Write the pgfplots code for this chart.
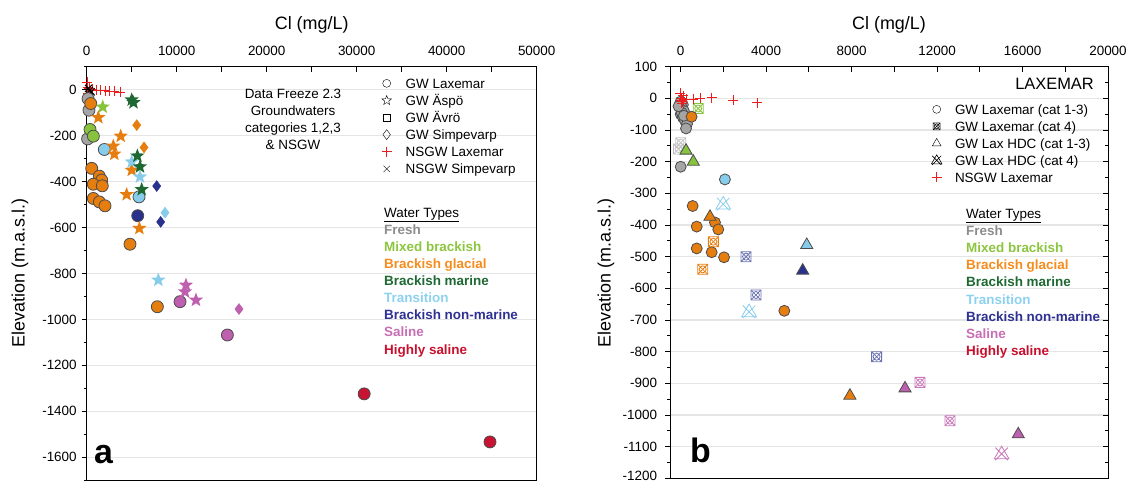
\documentclass[border=0pt]{standalone}
\usepackage{pgfplots}
\pgfplotsset{compat=1.18}
\usepackage{fontspec}
\setmainfont{Liberation Sans}

\definecolor{cfresh}{RGB}{165,165,165}
\definecolor{cmix}{RGB}{135,195,60}
\definecolor{cglac}{RGB}{230,125,15}
\definecolor{cmar}{RGB}{30,105,50}
\definecolor{ctrans}{RGB}{135,205,235}
\definecolor{cbnm}{RGB}{40,50,140}
\definecolor{csal}{RGB}{190,95,175}
\definecolor{chs}{RGB}{200,20,50}
\definecolor{tfresh}{RGB}{140,140,140}
\definecolor{tmix}{RGB}{140,198,63}
\definecolor{tglac}{RGB}{245,140,30}
\definecolor{tmar}{RGB}{30,105,50}
\definecolor{ttrans}{RGB}{140,210,240}
\definecolor{tbnm}{RGB}{46,49,146}
\definecolor{tsal}{RGB}{200,110,180}
\definecolor{ths}{RGB}{200,16,46}
\definecolor{nsgw}{RGB}{235,30,30}

\pgfdeclareplotmark{fstar}{%
 \pgfpathmoveto{\pgfpointpolar{90}{\pgfplotmarksize}}%
 \pgfpathlineto{\pgfpointpolar{126}{0.42\pgfplotmarksize}}%
 \pgfpathlineto{\pgfpointpolar{162}{\pgfplotmarksize}}%
 \pgfpathlineto{\pgfpointpolar{198}{0.42\pgfplotmarksize}}%
 \pgfpathlineto{\pgfpointpolar{234}{\pgfplotmarksize}}%
 \pgfpathlineto{\pgfpointpolar{270}{0.42\pgfplotmarksize}}%
 \pgfpathlineto{\pgfpointpolar{306}{\pgfplotmarksize}}%
 \pgfpathlineto{\pgfpointpolar{342}{0.42\pgfplotmarksize}}%
 \pgfpathlineto{\pgfpointpolar{18}{\pgfplotmarksize}}%
 \pgfpathlineto{\pgfpointpolar{54}{0.42\pgfplotmarksize}}%
 \pgfpathclose\pgfusepathqfill}
\pgfdeclareplotmark{ostar}{%
 \pgfpathmoveto{\pgfpointpolar{90}{\pgfplotmarksize}}%
 \pgfpathlineto{\pgfpointpolar{126}{0.42\pgfplotmarksize}}%
 \pgfpathlineto{\pgfpointpolar{162}{\pgfplotmarksize}}%
 \pgfpathlineto{\pgfpointpolar{198}{0.42\pgfplotmarksize}}%
 \pgfpathlineto{\pgfpointpolar{234}{\pgfplotmarksize}}%
 \pgfpathlineto{\pgfpointpolar{270}{0.42\pgfplotmarksize}}%
 \pgfpathlineto{\pgfpointpolar{306}{\pgfplotmarksize}}%
 \pgfpathlineto{\pgfpointpolar{342}{0.42\pgfplotmarksize}}%
 \pgfpathlineto{\pgfpointpolar{18}{\pgfplotmarksize}}%
 \pgfpathlineto{\pgfpointpolar{54}{0.42\pgfplotmarksize}}%
 \pgfpathclose\pgfusepathqstroke}
\pgfdeclareplotmark{sqox}{%
 \pgfpathrectangle{\pgfpoint{-\pgfplotmarksize}{-\pgfplotmarksize}}{\pgfpoint{2\pgfplotmarksize}{2\pgfplotmarksize}}%
 \pgfpathcircle{\pgfpointorigin}{0.7\pgfplotmarksize}%
 \pgfpathmoveto{\pgfpoint{-\pgfplotmarksize}{-\pgfplotmarksize}}\pgfpathlineto{\pgfpoint{\pgfplotmarksize}{\pgfplotmarksize}}%
 \pgfpathmoveto{\pgfpoint{-\pgfplotmarksize}{\pgfplotmarksize}}\pgfpathlineto{\pgfpoint{\pgfplotmarksize}{-\pgfplotmarksize}}%
 \pgfusepathqstroke}
\pgfdeclareplotmark{trix}{%
 \pgfpathmoveto{\pgfpoint{0pt}{1.1\pgfplotmarksize}}%
 \pgfpathlineto{\pgfpoint{-1.05\pgfplotmarksize}{-0.7\pgfplotmarksize}}%
 \pgfpathlineto{\pgfpoint{1.05\pgfplotmarksize}{-0.7\pgfplotmarksize}}%
 \pgfpathclose
 \pgfpathmoveto{\pgfpoint{-0.9\pgfplotmarksize}{-0.9\pgfplotmarksize}}\pgfpathlineto{\pgfpoint{0.9\pgfplotmarksize}{0.9\pgfplotmarksize}}%
 \pgfpathmoveto{\pgfpoint{-0.9\pgfplotmarksize}{0.9\pgfplotmarksize}}\pgfpathlineto{\pgfpoint{0.9\pgfplotmarksize}{-0.9\pgfplotmarksize}}%
 \pgfusepathqstroke}

\pgfplotsset{
 myax/.style={scale only axis, anchor=north west,
  axis line style={black, line width=1bp},
  tick align=center, major tick length=5bp, minor tick length=3bp,
  tick style={black, line width=0.9bp},
  major y tick style={xshift=-2.5bp}, minor y tick style={xshift=-1.5bp},
  major x tick style={yshift=-2.5bp},
  xtick pos=right, xticklabel pos=right, yticklabel pos=left,
  tick label style={font=\fontsize{13.5}{15}\selectfont},
  xticklabel style={yshift=5bp},
  ymajorgrids, major grid style={draw=black!10, line width=1.4bp},
  scaled x ticks=false, scaled y ticks=false,
  legend style={draw=none, fill=none, inner sep=0pt, outer sep=0pt, anchor=north west,
    font=\fontsize{13.5}{15}\selectfont, column sep=12bp,
    nodes={inner sep=0pt, text height=11.5bp, text depth=2bp}},
  legend cell align=left,
  legend image code/.code={\path[draw=none, fill=none] (-7bp,-3bp) rectangle (7bp,3bp); \draw[##1] plot coordinates {(0bp,0bp)};},
 },
 pcirc/.style={only marks, mark=*, mark size=6bp, mark options={draw=black!70, fill=#1, line width=0.8bp}, forget plot},
 pcircb/.style={only marks, mark=*, mark size=5.5bp, mark options={draw=black!70, fill=#1, line width=0.8bp}, forget plot},
 pstar/.style={only marks, mark=fstar, mark size=7.5bp, color=#1, forget plot},
 pdiam/.style={only marks, mark=diamond*, mark size=5.5bp, color=#1, forget plot},
 ptri/.style={only marks, mark=triangle*, mark size=7bp, mark options={draw=black!70, fill=#1, line width=0.8bp}, forget plot},
 psq/.style={only marks, mark=sqox, mark size=5bp, color=#1, line width=0.8bp, forget plot},
 ptx/.style={only marks, mark=trix, mark size=7bp, color=#1, line width=0.8bp, forget plot},
}

\begin{document}
\begin{tikzpicture}
\useasboundingbox (0,0) rectangle (1128bp,-482bp);

% ---------------- panel a ----------------
\begin{axis}[myax, at={(86.7bp,-66.5bp)}, width=450bp, height=413.8bp,
 xmin=0, xmax=50000, ymin=-1700, ymax=100,
 xtick={0,5000,...,50000}, xticklabels={0,,10000,,20000,,30000,,40000,,50000},
 ytick={-1600,-1400,-1200,-1000,-800,-600,-400,-200,0},
 yticklabels={-1600,-1400,-1200,-1000,-800,-600,-400,-200,0},
 minor ytick={-1700,-1500,-1300,-1100,-900,-700,-500,-300,-100,100},
 ytick pos=left, yticklabel style={xshift=-4bp},
 legend style={at={(axis description cs:0.6511,0.9756)}, row sep=3.6bp},
]
\addlegendimage{only marks, mark=o, black, mark size=4bp}
\addlegendentry{GW Laxemar}
\addlegendimage{only marks, mark=ostar, black, mark size=5bp}
\addlegendentry{GW Äspö}
\addlegendimage{only marks, mark=square, black, mark size=3.5bp}
\addlegendentry{GW Ävrö}
\addlegendimage{only marks, mark=diamond, black, mark size=5bp}
\addlegendentry{GW Simpevarp}
\addlegendimage{only marks, mark=+, mark size=5bp, color=nsgw, draw=nsgw, mark options={draw=nsgw, line width=0.9bp}}
\addlegendentry{NSGW Laxemar}
\addlegendimage{only marks, mark=x, black, mark size=4.5bp}
\addlegendentry{NSGW Simpevarp}

% NSGW
\addplot[only marks, mark=+, nsgw, mark size=5bp, forget plot] coordinates {
 (0,33) (100,10) (300,5) (600,0) (1000,-2) (1500,-4) (2000,-5) (2500,-6) (3000,-8) (3700,-10) (200,-15)};
\addplot[only marks, mark=x, black, mark size=5bp, line width=1bp, forget plot] coordinates {
 (300,-5) (200,5) (500,-10)};
% circles
\addplot[pcirc=cfresh] coordinates {(150,-40) (250,-90) (100,-215)};
\addplot[pcirc=cmix] coordinates {(370,-174) (740,-203)};
\addplot[pcirc=cglac] coordinates {(450,-61) (556,-343) (1400,-377) (1667,-394) (733,-412) (1733,-419)
 (733,-474) (1400,-489) (2033,-506) (4810,-673) (7850,-945)};
\addplot[pcirc=ctrans] coordinates {(1960,-261) (5810,-467)};
\addplot[pcirc=cbnm] coordinates {(5670,-549)};
\addplot[pcirc=csal] coordinates {(10370,-923) (15630,-1068)};
\addplot[pcirc=chs] coordinates {(30830,-1324) (44810,-1533)};
% stars
\addplot[pstar=cmix] coordinates {(1780,-76)};
\addplot[pstar=cglac] coordinates {(1290,-122) (3780,-203) (2960,-246) (3070,-281) (5000,-351) (4440,-457) (5850,-604)};
\addplot[pstar=ctrans] coordinates {(5000,-315) (5920,-380) (7960,-829)};
\addplot[pstar=cmar] coordinates {(5000,-45) (5200,-57) (5630,-289) (5920,-336) (6110,-435)};
\addplot[pstar=csal] coordinates {(11030,-851) (10920,-880) (12140,-916)};
% diamonds
\addplot[pdiam=cglac] coordinates {(5560,-155) (6370,-252)};
\addplot[pdiam=cbnm] coordinates {(7780,-420) (8220,-576)};
\addplot[pdiam=ctrans] coordinates {(8700,-536)};
\addplot[pdiam=csal] coordinates {(16920,-955)};
\end{axis}

% ---------------- panel b ----------------
\begin{axis}[myax, at={(670bp,-66.7bp)}, width=438bp, height=411.6bp,
 xmin=-500, xmax=20000, ymin=-1200, ymax=100,
 xtick={0,2000,...,20000}, xticklabels={0,,4000,,8000,,12000,,16000,,20000},
 ytick={-1200,-1100,-1000,-900,-800,-700,-600,-500,-400,-300,-200,-100,0,100},
 yticklabels={\raisebox{5bp}{-1200},-1100,-1000,-900,-800,-700,-600,-500,-400,-300,-200,-100,0,100},
 minor ytick={-1150,-1050,-950,-850,-750,-650,-550,-450,-350,-250,-150,-50,50},
 ytick pos=both, yticklabel style={xshift=-7bp},
 legend style={at={(axis description cs:0.5929,0.9128)}, row sep=3.5bp, column sep=11.3bp},
]
\addlegendimage{only marks, mark=o, black, mark size=4bp}
\addlegendentry{GW Laxemar (cat 1-3)}
\addlegendimage{only marks, mark=sqox, black, mark size=3.5bp, line width=0.5bp}
\addlegendentry{GW Laxemar (cat 4)}
\addlegendimage{only marks, mark=triangle, black, mark size=5bp}
\addlegendentry{GW Lax HDC (cat 1-3)}
\addlegendimage{only marks, mark=trix, black, mark size=5bp, line width=0.6bp}
\addlegendentry{GW Lax HDC (cat 4)}
\addlegendimage{only marks, mark=+, mark size=5bp, color=nsgw, draw=nsgw, mark options={draw=nsgw, line width=0.9bp}}
\addlegendentry{NSGW Laxemar}

\addplot[pcircb=cfresh] coordinates {(0,-10) (100,-20) (50,-30) (150,-40) (0,-50) (100,-60) (200,-70)
 (300,-80) (250,-95) (50,-45) (150,-55) (-100,-25) (0,-216)};
\addplot[psq=cfresh!70] coordinates {(0,-140) (-100,-160)};
\addplot[psq=cmix] coordinates {(820,-32)};
\addplot[ptri=cmix] coordinates {(250,-165) (590,-200)};
\addplot[pcircb=cglac] coordinates {(510,-58) (560,-340) (750,-405) (1605,-392) (1760,-414)
 (750,-474) (1450,-486) (2030,-502) (4850,-671)};
\addplot[psq=cglac] coordinates {(1530,-453) (1030,-540)};
\addplot[ptri=cglac] coordinates {(1370,-374) (7920,-939)};
\addplot[pcircb=ctrans] coordinates {(2070,-256)};
\addplot[ptx=ctrans] coordinates {(1990,-334) (3200,-674)};
\addplot[ptri=ctrans] coordinates {(5900,-463)};
\addplot[psq=cbnm!70] coordinates {(3060,-500) (3520,-621) (9170,-816)};
\addplot[ptri=cbnm] coordinates {(5710,-544)};
\addplot[psq=csal!85] coordinates {(11200,-897) (12600,-1018)};
\addplot[ptri=csal] coordinates {(10500,-916) (15800,-1061)};
\addplot[ptx=csal!85] coordinates {(15020,-1123)};
\addplot[only marks, mark=+, nsgw, mark size=5bp, line width=0.8bp, forget plot] coordinates {
 (-30,16) (50,0) (280,-3) (590,-3) (900,0) (1450,2) (2460,-5) (3590,-14)
 (20,-5) (80,-10) (120,8) (40,-15) (150,-2)};
\end{axis}

% ---------------- text ----------------
\node[font=\fontsize{18}{20}\selectfont, anchor=base] at (311.7bp,-29bp) {Cl (mg/L)};
\node[font=\fontsize{18}{20}\selectfont, anchor=base] at (889bp,-29bp) {Cl (mg/L)};
\node[font=\fontsize{18}{20}\selectfont, rotate=90, anchor=center] at (20bp,-273bp) {Elevation (m.a.s.l.)};
\node[font=\fontsize{18}{20}\selectfont, rotate=90, anchor=center] at (606bp,-273bp) {Elevation (m.a.s.l.)};

\begin{scope}[every node/.style={font=\fontsize{13.5}{15}\selectfont, anchor=base, inner sep=0pt}]
\node at (293bp,-98bp) {Data Freeze 2.3};
\node at (293bp,-115.3bp) {Groundwaters};
\node at (293bp,-132.6bp) {categories 1,2,3};
\node at (293bp,-149.9bp) {\& NSGW};
\end{scope}

\begin{scope}[every node/.style={font=\fontsize{13.5}{15}\selectfont\bfseries, anchor=base west, inner sep=0pt}]
\node[font=\fontsize{13.5}{15}\selectfont] at (384bp,-217.2bp) {\underline{Water Types}};
\node[text=tfresh] at (384bp,-234.3bp) {Fresh};
\node[text=tmix] at (384bp,-251.4bp) {Mixed brackish};
\node[text=tglac] at (384bp,-268.5bp) {Brackish glacial};
\node[text=tmar] at (384bp,-285.6bp) {Brackish marine};
\node[text=ttrans] at (384bp,-302.7bp) {Transition};
\node[text=tbnm] at (384bp,-319.8bp) {Brackish non-marine};
\node[text=tsal] at (384bp,-336.9bp) {Saline};
\node[text=ths] at (384bp,-354bp) {Highly saline};

\node[font=\fontsize{13.5}{15}\selectfont] at (966bp,-218.5bp) {\underline{Water Types}};
\node[text=tfresh] at (966bp,-235.6bp) {Fresh};
\node[text=tmix] at (966bp,-252.7bp) {Mixed brackish};
\node[text=tglac] at (966bp,-269.8bp) {Brackish glacial};
\node[text=tmar] at (966bp,-286.9bp) {Brackish marine};
\node[text=ttrans] at (966bp,-304bp) {Transition};
\node[text=tbnm] at (966bp,-321.1bp) {Brackish non-marine};
\node[text=tsal] at (966bp,-338.2bp) {Saline};
\node[text=ths] at (966bp,-355.3bp) {Highly saline};
\end{scope}

\node[font=\fontsize{16.5}{18}\selectfont, anchor=base east, inner sep=0pt] at (1094bp,-89bp) {LAXEMAR};
\node[font=\fontsize{34}{36}\selectfont\bfseries, anchor=base west, inner sep=0pt] at (94bp,-463bp) {a};
\node[font=\fontsize{34}{36}\selectfont\bfseries, anchor=base west, inner sep=0pt] at (690bp,-462bp) {b};
\end{tikzpicture}
\end{document}
